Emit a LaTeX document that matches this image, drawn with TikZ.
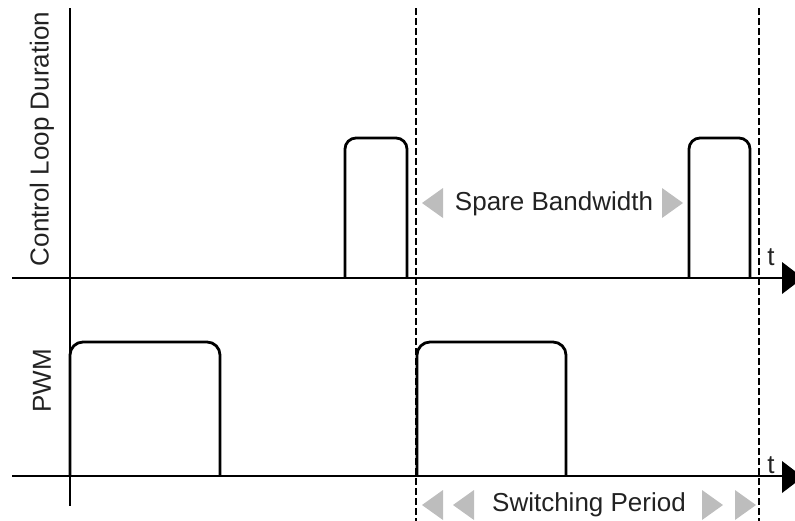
\documentclass[tikz,border=0pt]{standalone}
\usepackage{fontspec}
\setmainfont{Liberation Sans}
\definecolor{txt}{HTML}{222222}
\definecolor{tri}{HTML}{BDBDBD}
\begin{document}
\begin{tikzpicture}[x=1pt,y=-1pt,
  axis/.style={line width=2.8pt,black},
  pulse/.style={line width=2.8pt,black,rounded corners=11pt},
  dashline/.style={line width=2.4pt,black,dash pattern=on 7pt off 3pt},
  tip/.style={fill=black},
  greytri/.style={fill=tri},
  lbl/.style={font=\fontsize{26}{30}\selectfont,text=txt,inner sep=0pt}]
\useasboundingbox (0,0) rectangle (795,520);
% coordinates
\coordinate (vtop) at (70,8);
\coordinate (vbot) at (70,506);
\coordinate (a1s) at (12,278);
\coordinate (a1e) at (783,278);
\coordinate (a2s) at (12,476);
\coordinate (a2e) at (783,476);
\coordinate (d1t) at (416,8);
\coordinate (d1b) at (416,522);
\coordinate (d2t) at (759,8);
\coordinate (d2b) at (759,522);
% dashed period lines
\draw[dashline] (d1t) -- (d1b);
\draw[dashline] (d2t) -- (d2b);
% axes
\draw[axis] (vtop) -- (vbot);
\draw[axis] (a1s) -- (a1e);
\draw[axis] (a2s) -- (a2e);
\fill[tip] (782,262) -- (803,278) -- (782,294) -- cycle;
\fill[tip] (782,461) -- (803,477) -- (782,493) -- cycle;
% control loop pulses
\draw[pulse] (345,278) -- (345,138) -- (407,138) -- (407,278);
\draw[pulse] (689,278) -- (689,138) -- (750,138) -- (750,278);
% PWM pulses
\draw[pulse,rounded corners=13pt] (70,476) -- (70,342) -- (220,342) -- (220,476);
\draw[pulse,rounded corners=13pt] (417,476) -- (417,342) -- (566,342) -- (566,476);
% labels
\node[lbl,rotate=90] (cld) at (42,139) {Control Loop Duration};
\node[lbl,rotate=90] (pwm) at (42,381) {PWM};
\node[lbl] (t1) at (771,257) {t};
\node[lbl] (t2) at (771,465) {t};
\node[lbl] (spare) at (554,204) {Spare Bandwidth};
\node[lbl] (sw) at (589,505) {Switching Period};
% grey triangles
\fill[greytri] (443,188) -- (422,203) -- (443,218) -- cycle;
\fill[greytri] (662,188) -- (683,203) -- (662,218) -- cycle;
\fill[greytri] (443,490) -- (422,505) -- (443,520) -- cycle;
\fill[greytri] (474,490) -- (453,505) -- (474,520) -- cycle;
\fill[greytri] (702,490) -- (723,505) -- (702,520) -- cycle;
\fill[greytri] (735,490) -- (756,505) -- (735,520) -- cycle;
\end{tikzpicture}
\end{document}
